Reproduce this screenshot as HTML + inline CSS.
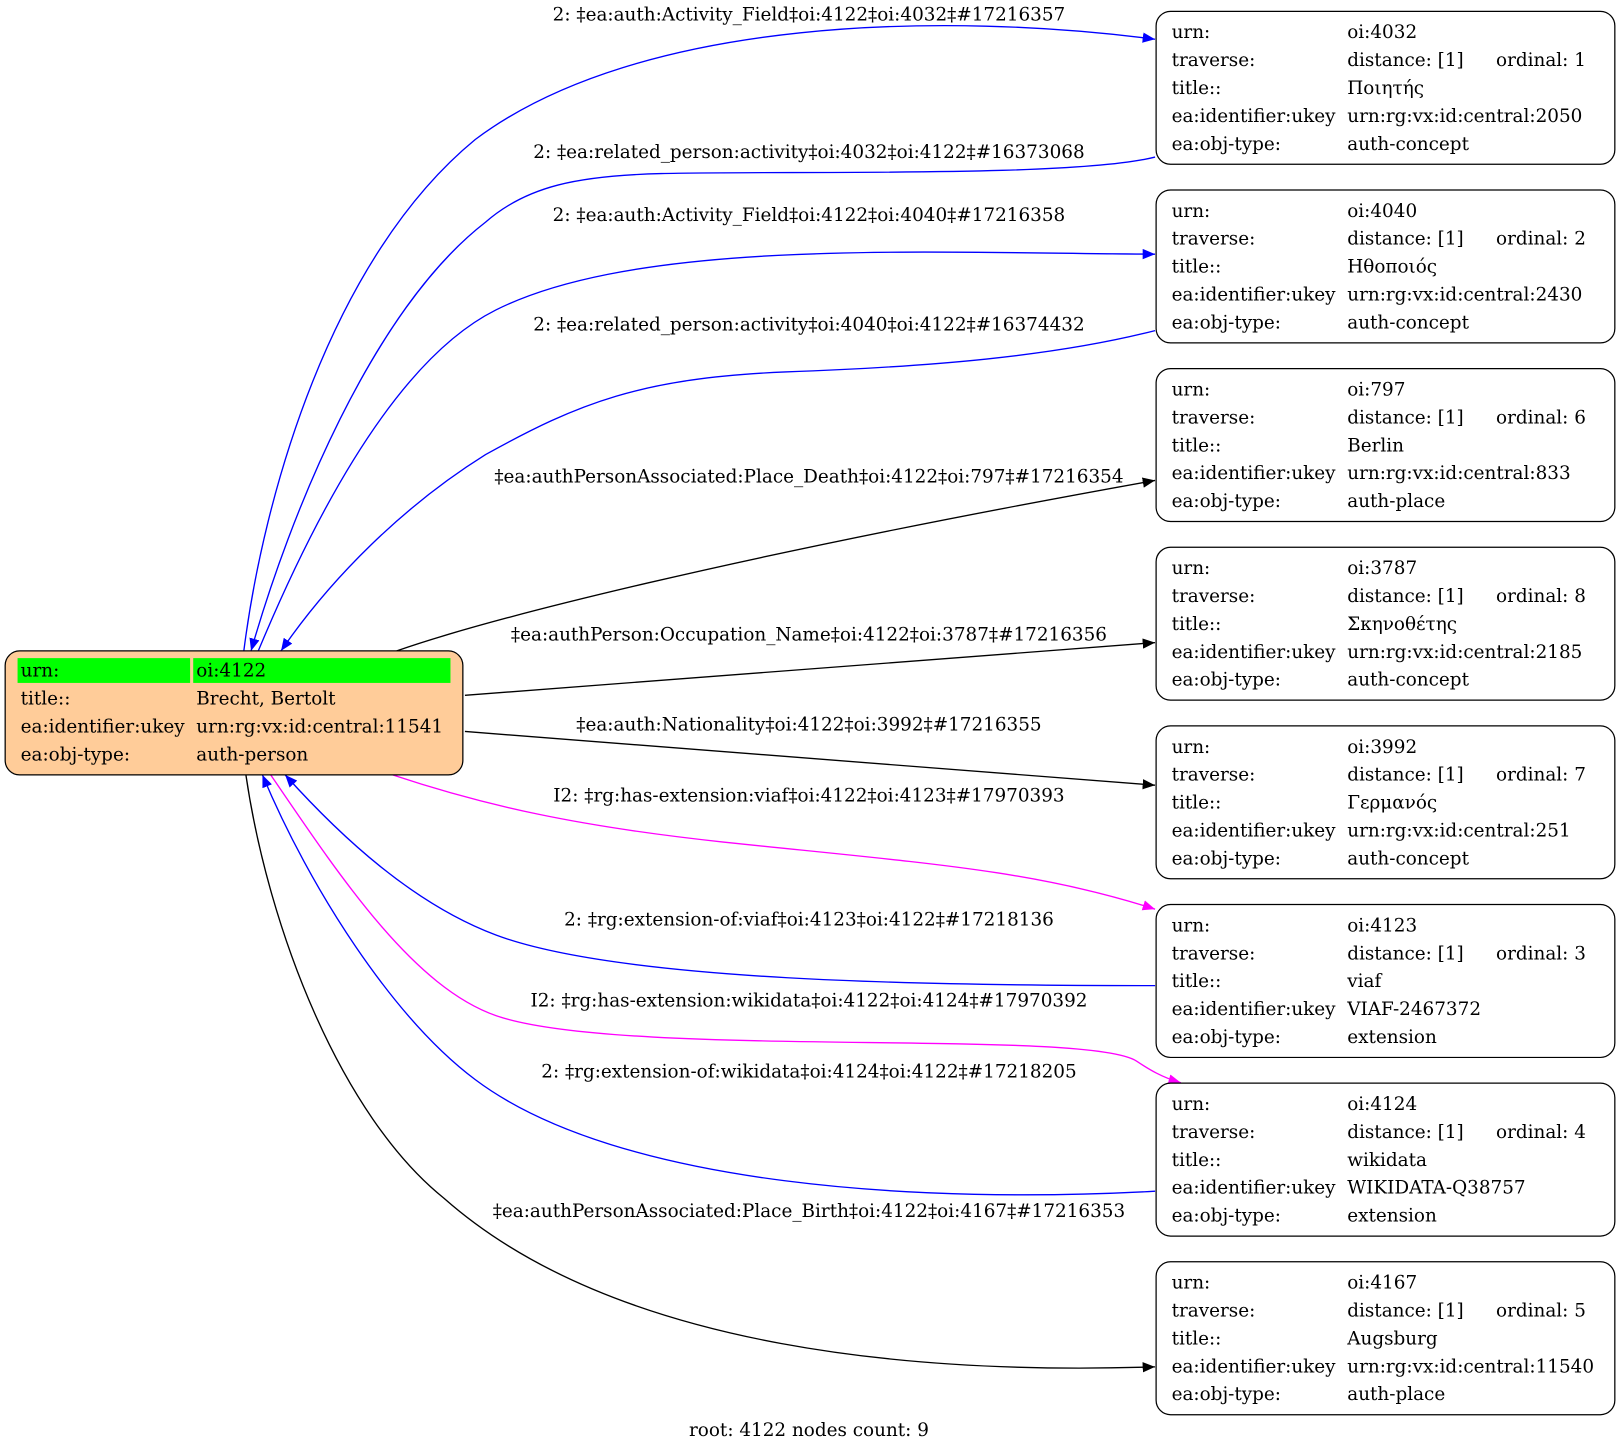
<!DOCTYPE html>
<html><head><meta charset="utf-8"><style>
html,body{margin:0;padding:0;background:#fff;}
svg{display:block;}
text{font-family:"DejaVu Serif","Liberation Serif",serif;font-size:17.8px;fill:#000;}
</style></head><body>
<svg width="1620" height="1452" viewBox="0 0 1568 1405.4" xmlns="http://www.w3.org/2000/svg">
<defs>
<marker id="ab" viewBox="0 0 12 10" refX="12" refY="5" markerWidth="12" markerHeight="10" markerUnits="userSpaceOnUse" orient="auto"><path d="M0,0 L12,5 L0,10 z" fill="#0000ff"/></marker>
<marker id="ak" viewBox="0 0 12 10" refX="12" refY="5" markerWidth="12" markerHeight="10" markerUnits="userSpaceOnUse" orient="auto"><path d="M0,0 L12,5 L0,10 z" fill="#000"/></marker>
<marker id="am" viewBox="0 0 12 10" refX="12" refY="5" markerWidth="12" markerHeight="10" markerUnits="userSpaceOnUse" orient="auto"><path d="M0,0 L12,5 L0,10 z" fill="#ff00ff"/></marker>
</defs>
<g fill="none" stroke-width="1.3">
<path d="M236,630 C255,480 320,250 460,135 C620,15 920,12 1118,38" stroke="#0000ff" marker-end="url(#ab)"/>
<path d="M1118,152 C1040,172 760,165 640,168 C560,170 510,180 470,215 C360,300 280,500 243,630" stroke="#0000ff" marker-end="url(#ab)"/>
<path d="M250,630 C300,510 380,350 480,300 C620,230 900,245 1118,246" stroke="#0000ff" marker-end="url(#ab)"/>
<path d="M1118,320 C1020,345 900,355 760,360 C620,366 560,390 470,440 C390,490 320,560 272,630" stroke="#0000ff" marker-end="url(#ab)"/>
<path d="M384,630 C470,600 700,540 1118,465" stroke="#000" marker-end="url(#ak)"/>
<path d="M450,673 L1118,622" stroke="#000" marker-end="url(#ak)"/>
<path d="M450,708 L1118,760" stroke="#000" marker-end="url(#ak)"/>
<path d="M380,750 C470,780 560,800 700,815 C900,836 1000,842 1118,880" stroke="#ff00ff" marker-end="url(#am)"/>
<path d="M1118,954 C900,954 600,950 480,905 C400,875 330,810 276,750" stroke="#0000ff" marker-end="url(#ab)"/>
<path d="M262,750 C330,850 400,955 480,983 C600,1025 1050,995 1100,1027 C1112,1035 1125,1043 1143,1048" stroke="#ff00ff" marker-end="url(#am)"/>
<path d="M1118,1153 C900,1165 600,1150 460,1045 C380,985 300,860 254,750" stroke="#0000ff" marker-end="url(#ab)"/>
<path d="M238,750 C260,900 330,1080 430,1160 C600,1310 900,1330 1118,1323" stroke="#000" marker-end="url(#ak)"/>
</g>
<g text-anchor="middle">
<text x="783" y="20">2: ‡ea:auth:Activity_Field‡oi:4122‡oi:4032‡#17216357</text>
<text x="783" y="153">2: ‡ea:related_person:activity‡oi:4032‡oi:4122‡#16373068</text>
<text x="783" y="214">2: ‡ea:auth:Activity_Field‡oi:4122‡oi:4040‡#17216358</text>
<text x="783" y="320">2: ‡ea:related_person:activity‡oi:4040‡oi:4122‡#16374432</text>
<text x="783" y="467">‡ea:authPersonAssociated:Place_Death‡oi:4122‡oi:797‡#17216354</text>
<text x="783" y="620">‡ea:authPerson:Occupation_Name‡oi:4122‡oi:3787‡#17216356</text>
<text x="783" y="707">‡ea:auth:Nationality‡oi:4122‡oi:3992‡#17216355</text>
<text x="783" y="776">I2: ‡rg:has-extension:viaf‡oi:4122‡oi:4123‡#17970393</text>
<text x="783" y="896">2: ‡rg:extension-of:viaf‡oi:4123‡oi:4122‡#17218136</text>
<text x="783" y="974">I2: ‡rg:has-extension:wikidata‡oi:4122‡oi:4124‡#17970392</text>
<text x="783" y="1043">2: ‡rg:extension-of:wikidata‡oi:4124‡oi:4122‡#17218205</text>
<text x="783" y="1178">‡ea:authPersonAssociated:Place_Birth‡oi:4122‡oi:4167‡#17216353</text>
<text x="783" y="1390">root: 4122 nodes count: 9</text>
</g>
<rect x="5" y="630" width="443" height="120" rx="14" fill="#ffcc99" stroke="#000" stroke-width="1.2"/>
<rect x="17" y="637" width="167" height="24" fill="#00ff00"/>
<rect x="187" y="637" width="249" height="24" fill="#00ff00"/>
<text x="20" y="655">urn:</text><text x="190" y="655">oi:4122</text>
<text x="20" y="682">title::</text><text x="190" y="682">Brecht, Bertolt</text>
<text x="20" y="709">ea:identifier:ukey</text><text x="190" y="709">urn:rg:vx:id:central:11541</text>
<text x="20" y="736">ea:obj-type:</text><text x="190" y="736">auth-person</text>
<g>
<rect x="1119" y="11" width="444" height="148" rx="14" fill="#fff" stroke="#000" stroke-width="1.2"/>
<text x="1134" y="37">urn:</text><text x="1304" y="37">oi:4032</text>
<text x="1134" y="64">traverse:</text><text x="1304" y="64">distance: [1]</text><text x="1448" y="64">ordinal: 1</text>
<text x="1134" y="91">title::</text><text x="1304" y="91">Ποιητής</text>
<text x="1134" y="118">ea:identifier:ukey</text><text x="1304" y="118">urn:rg:vx:id:central:2050</text>
<text x="1134" y="145">ea:obj-type:</text><text x="1304" y="145">auth-concept</text>
</g>
<g transform="translate(0,172.9)">
<rect x="1119" y="11" width="444" height="148" rx="14" fill="#fff" stroke="#000" stroke-width="1.2"/>
<text x="1134" y="37">urn:</text><text x="1304" y="37">oi:4040</text>
<text x="1134" y="64">traverse:</text><text x="1304" y="64">distance: [1]</text><text x="1448" y="64">ordinal: 2</text>
<text x="1134" y="91">title::</text><text x="1304" y="91">Ηθοποιός</text>
<text x="1134" y="118">ea:identifier:ukey</text><text x="1304" y="118">urn:rg:vx:id:central:2430</text>
<text x="1134" y="145">ea:obj-type:</text><text x="1304" y="145">auth-concept</text>
</g>
<g transform="translate(0,345.8)">
<rect x="1119" y="11" width="444" height="148" rx="14" fill="#fff" stroke="#000" stroke-width="1.2"/>
<text x="1134" y="37">urn:</text><text x="1304" y="37">oi:797</text>
<text x="1134" y="64">traverse:</text><text x="1304" y="64">distance: [1]</text><text x="1448" y="64">ordinal: 6</text>
<text x="1134" y="91">title::</text><text x="1304" y="91">Berlin</text>
<text x="1134" y="118">ea:identifier:ukey</text><text x="1304" y="118">urn:rg:vx:id:central:833</text>
<text x="1134" y="145">ea:obj-type:</text><text x="1304" y="145">auth-place</text>
</g>
<g transform="translate(0,518.7)">
<rect x="1119" y="11" width="444" height="148" rx="14" fill="#fff" stroke="#000" stroke-width="1.2"/>
<text x="1134" y="37">urn:</text><text x="1304" y="37">oi:3787</text>
<text x="1134" y="64">traverse:</text><text x="1304" y="64">distance: [1]</text><text x="1448" y="64">ordinal: 8</text>
<text x="1134" y="91">title::</text><text x="1304" y="91">Σκηνοθέτης</text>
<text x="1134" y="118">ea:identifier:ukey</text><text x="1304" y="118">urn:rg:vx:id:central:2185</text>
<text x="1134" y="145">ea:obj-type:</text><text x="1304" y="145">auth-concept</text>
</g>
<g transform="translate(0,691.6)">
<rect x="1119" y="11" width="444" height="148" rx="14" fill="#fff" stroke="#000" stroke-width="1.2"/>
<text x="1134" y="37">urn:</text><text x="1304" y="37">oi:3992</text>
<text x="1134" y="64">traverse:</text><text x="1304" y="64">distance: [1]</text><text x="1448" y="64">ordinal: 7</text>
<text x="1134" y="91">title::</text><text x="1304" y="91">Γερμανός</text>
<text x="1134" y="118">ea:identifier:ukey</text><text x="1304" y="118">urn:rg:vx:id:central:251</text>
<text x="1134" y="145">ea:obj-type:</text><text x="1304" y="145">auth-concept</text>
</g>
<g transform="translate(0,864.5)">
<rect x="1119" y="11" width="444" height="148" rx="14" fill="#fff" stroke="#000" stroke-width="1.2"/>
<text x="1134" y="37">urn:</text><text x="1304" y="37">oi:4123</text>
<text x="1134" y="64">traverse:</text><text x="1304" y="64">distance: [1]</text><text x="1448" y="64">ordinal: 3</text>
<text x="1134" y="91">title::</text><text x="1304" y="91">viaf</text>
<text x="1134" y="118">ea:identifier:ukey</text><text x="1304" y="118">VIAF-2467372</text>
<text x="1134" y="145">ea:obj-type:</text><text x="1304" y="145">extension</text>
</g>
<g transform="translate(0,1037.4)">
<rect x="1119" y="11" width="444" height="148" rx="14" fill="#fff" stroke="#000" stroke-width="1.2"/>
<text x="1134" y="37">urn:</text><text x="1304" y="37">oi:4124</text>
<text x="1134" y="64">traverse:</text><text x="1304" y="64">distance: [1]</text><text x="1448" y="64">ordinal: 4</text>
<text x="1134" y="91">title::</text><text x="1304" y="91">wikidata</text>
<text x="1134" y="118">ea:identifier:ukey</text><text x="1304" y="118">WIKIDATA-Q38757</text>
<text x="1134" y="145">ea:obj-type:</text><text x="1304" y="145">extension</text>
</g>
<g transform="translate(0,1210.3)">
<rect x="1119" y="11" width="444" height="148" rx="14" fill="#fff" stroke="#000" stroke-width="1.2"/>
<text x="1134" y="37">urn:</text><text x="1304" y="37">oi:4167</text>
<text x="1134" y="64">traverse:</text><text x="1304" y="64">distance: [1]</text><text x="1448" y="64">ordinal: 5</text>
<text x="1134" y="91">title::</text><text x="1304" y="91">Augsburg</text>
<text x="1134" y="118">ea:identifier:ukey</text><text x="1304" y="118">urn:rg:vx:id:central:11540</text>
<text x="1134" y="145">ea:obj-type:</text><text x="1304" y="145">auth-place</text>
</g>
</svg>
</body></html>
